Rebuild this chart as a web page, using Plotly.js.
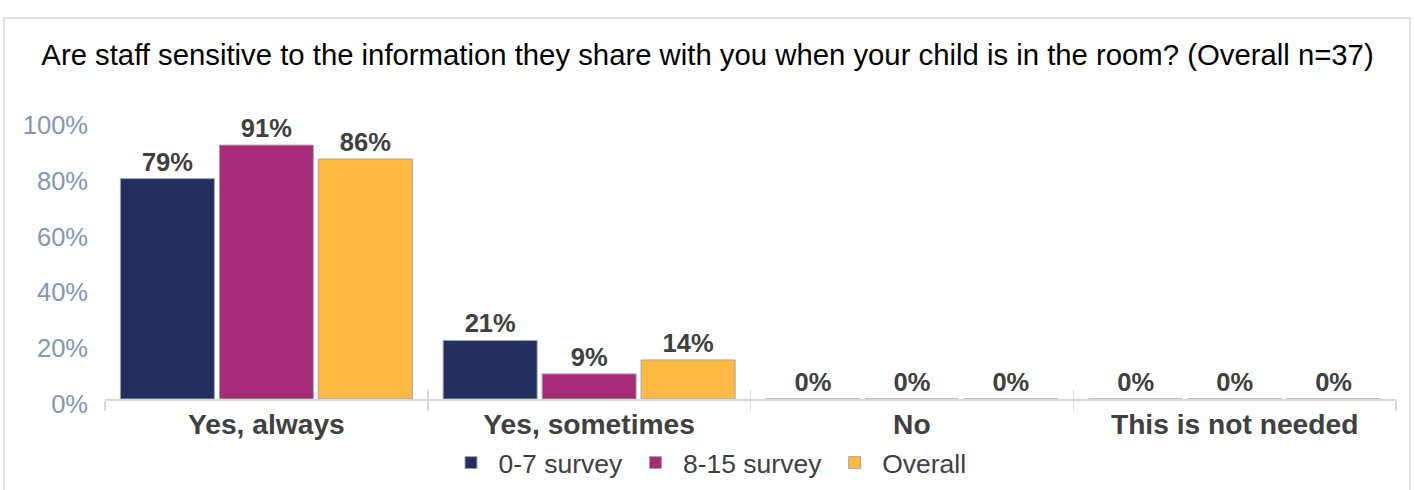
<!DOCTYPE html>
<html>
<head>
<meta charset="utf-8">
<script src="https://cdn.plot.ly/plotly-3.0.1.min.js"></script>
<style>html,body{margin:0;padding:0;background:#fff;}#chart{width:1415px;height:490px;}</style>
</head>
<body>
<div id="chart"></div>
<script>
const categories = ["Yes, always", "Yes, sometimes", "No", "This is not needed"];
const seriesNames = ["0-7 survey", "8-15 survey", "Overall"];
const survey0to7 = [0.79, 0.21, 0, 0];
const survey8to15 = [0.91, 0.09, 0, 0];
const overall = [0.86, 0.14, 0, 0];
const colors = ["#222F60", "#A82B7A", "#FDB942"];
const titleText = "Are staff sensitive to the information they share with you when your child is in the room? (Overall n=37)";

const FONT = "Arial, 'Liberation Sans', sans-serif";
const values = [survey0to7, survey8to15, overall];
const traces = values.map((v, i) => ({
  type: "bar",
  name: seriesNames[i],
  x: categories,
  y: v,
  marker: {color: colors[i], line: {color: "#A6A6A6", width: 1}},
  texttemplate: "%{y:.0%}",
  textposition: "outside",
  cliponaxis: false,
  textfont: {family: FONT, size: 25.5, color: "#404040", weight: "bold"},
  hoverinfo: "x+y"
}));
// helper trace so the second (tick-only) axis exists; draws nothing
traces.push({type: "scatter", mode: "none", x: categories, y: overall, xaxis: "x2", yaxis: "y",
             showlegend: false, hoverinfo: "skip"});

const layout = {
  width: 1415, height: 490,
  margin: {l: 105, r: 19, t: 120, b: 91, autoexpand: false},
  paper_bgcolor: "#fff", plot_bgcolor: "#fff",
  font: {family: FONT},
  title: {text: titleText, font: {family: FONT, size: 29.3, color: "#000"},
          xref: "container", x: 0.5, xanchor: "center", yref: "container", y: 1 - 55/490, yanchor: "middle"},
  barmode: "group",
  bargap: 0.08,
  bargroupgap: 0.05,
  xaxis: {
    showline: true, linecolor: "#D9D9D9", linewidth: 1.5,
    ticks: "outside", tickson: "boundaries", ticklen: 10, tickcolor: "#D9D9D9", tickwidth: 1.5,
    tickfont: {family: FONT, size: 28.2, color: "#404040", weight: "bold"},
    showgrid: false, zeroline: false, fixedrange: true, automargin: false
  },
  xaxis2: {
    overlaying: "x", matches: "x", anchor: "y", side: "bottom",
    showline: false, ticks: "inside", tickson: "boundaries", ticklen: 9, tickcolor: "#D9D9D9", tickwidth: 1.5,
    showticklabels: false, showgrid: false, zeroline: false, fixedrange: true, automargin: false
  },
  yaxis: {
    range: [0, 1], dtick: 0.2, tickformat: ".0%",
    showgrid: false, zeroline: false, showline: false, ticks: "",
    ticklabelstandoff: 16, ticklabelshift: 5, automargin: false,
    tickfont: {family: FONT, size: 25.5, color: "#8497B0"}, fixedrange: true
  },
  showlegend: true,
  legend: {orientation: "h", x: 0.5, xanchor: "center", xref: "container", y: -0.229, yanchor: "middle",
           font: {family: FONT, size: 26.5, color: "#404040"}, itemwidth: 45, traceorder: "normal"},
  shapes: [{type: "rect", xref: "paper", yref: "paper", x0: -0.0782, x1: 1.0109, y0: -0.4, y1: 1.3656,
            line: {color: "#D9D9D9", width: 1.5}, fillcolor: "rgba(0,0,0,0)", layer: "below"}]
};

Plotly.newPlot("chart", traces, layout, {displayModeBar: false, staticPlot: true});
</script>
</body>
</html>
